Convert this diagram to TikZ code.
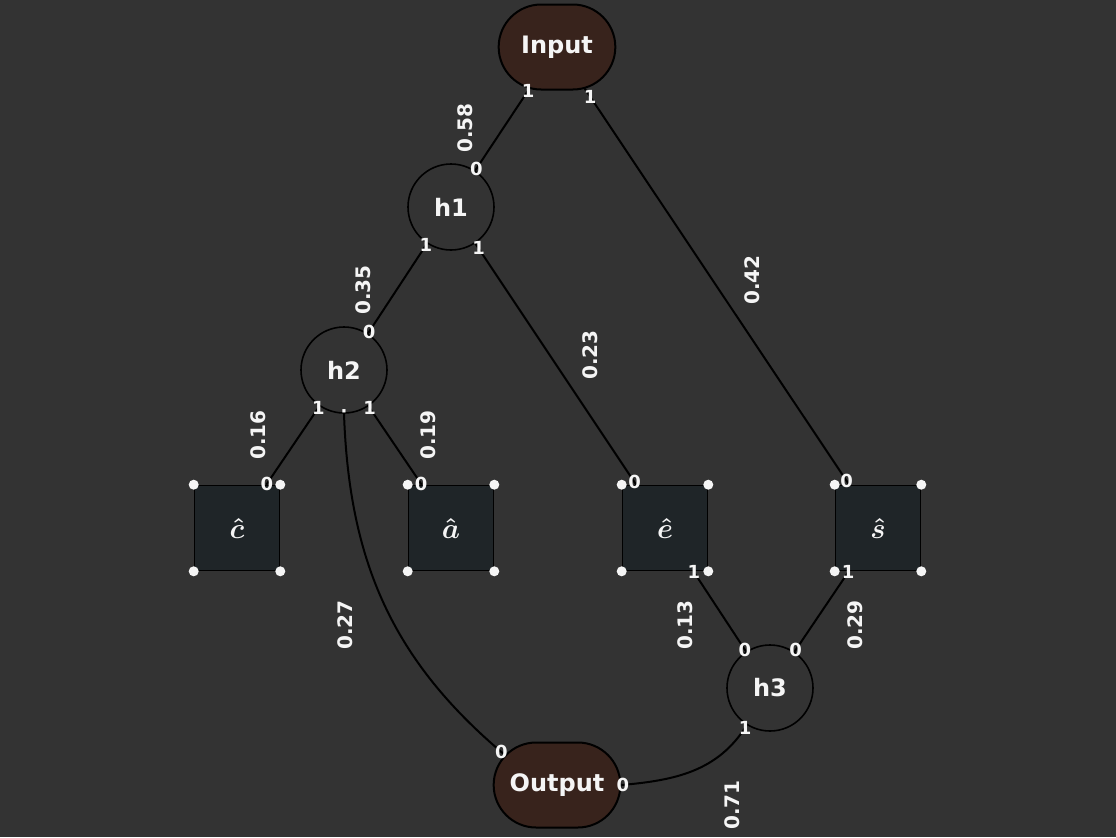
\documentclass[tikz,border=0pt]{standalone}
\usepackage{fontspec}
\setmainfont{DejaVu Sans}
\usetikzlibrary{shapes.misc}
\definecolor{bg}{HTML}{333333}
\definecolor{pillfill}{HTML}{38231C}
\definecolor{boxfill}{HTML}{1F2528}
\definecolor{txt}{HTML}{F5F5F5}
\begin{document}
\begin{tikzpicture}[x=0.5pt,y=-0.5pt,
  pill/.style={draw=black, line width=1pt, fill=pillfill, rounded rectangle, minimum width=65pt, minimum height=42.5pt, text=txt, font=\bfseries\large},
  opnode/.style={draw=black, line width=0.8pt, circle, minimum size=43pt, text=txt, font=\bfseries\large},
  leaf/.style={draw=black, line width=0.8pt, fill=boxfill, minimum size=42.5pt, text=txt, font=\boldmath\Large},
  link/.style={draw=black, line width=1pt},
  wlabel/.style={text=txt, font=\bfseries, rotate=90, inner sep=1pt},
  endlabel/.style={text=txt, font=\bfseries\small, inner sep=0pt},
  cornerdot/.style={fill=txt, circle, inner sep=0pt, minimum size=5pt}]
\fill[bg] (0,0) rectangle (1116,837);
\useasboundingbox (0,0) rectangle (1116,837);

\node[pill] (top) at (557,47) {Input};
\node[opnode] (c1) at (451,207) {h1};
\node[opnode] (c2) at (344,370) {h2};
\node[opnode] (c3) at (770,688) {h3};
\node[leaf] (s1) at (237,528) {$\hat{c}$};
\node[leaf] (s2) at (451,528) {$\hat{a}$};
\node[leaf] (s3) at (665,528) {$\hat{e}$};
\node[leaf] (s4) at (878,528) {$\hat{s}$};
\node[pill, minimum width=70pt] (bot) at (557,785) {Output};

\foreach \s in {s1,s2,s3,s4}{
  \foreach \a in {north west,north east,south west,south east}{
    \node[cornerdot] (\s-\a) at (\s.\a) {};
  }
}

\draw[link] (top) -- node[endlabel, pos=0.02] (e1a) {1} node[endlabel, pos=0.98] (e1b) {0} (c1);
\draw[link] (top) -- node[endlabel, pos=0.02] (e2a) {1} node[endlabel, pos=0.99] (e2b) {0} (s4);
\draw[link] (c1) -- node[endlabel, pos=0.02] (e3a) {1} node[endlabel, pos=0.98] (e3b) {0} (c2);
\draw[link] (c1) -- node[endlabel, pos=0.02] (e4a) {1} node[endlabel, pos=0.99] (e4b) {0} (s3);
\draw[link] (c2) -- node[endlabel, pos=0.02] (e5a) {1} node[endlabel, pos=0.99] (e5b) {0} (s1);
\draw[link] (c2) -- node[endlabel, pos=0.02] (e6a) {1} node[endlabel, pos=0.99] (e6b) {0} (s2);
\draw[link] (s3) -- node[endlabel, pos=0.01] (e7a) {1} node[endlabel, pos=0.98] (e7b) {0} (c3);
\draw[link] (s4) -- node[endlabel, pos=0.01] (e8a) {1} node[endlabel, pos=0.98] (e8b) {0} (c3);
\draw[link] (c2.south) to[out=-88, in=140] node[endlabel, pos=0.0] (e9a) {·} node[endlabel, pos=0.99] (e9b) {0} (bot.150);
\draw[link] (c3.238) to[out=238, in=5] node[endlabel, pos=0.02] (e10a) {1} node[endlabel, pos=0.99] (e10b) {0} (bot.east);

\node[wlabel] (w1) at (465,128) {0.58};
\node[wlabel] (w2) at (752,280) {0.42};
\node[wlabel] (w3) at (363,290) {0.35};
\node[wlabel] (w4) at (590,355) {0.23};
\node[wlabel] (w5) at (258,435) {0.16};
\node[wlabel] (w6) at (428,435) {0.19};
\node[wlabel] (w7) at (345,625) {0.27};
\node[wlabel] (w8) at (685,625) {0.13};
\node[wlabel] (w9) at (855,625) {0.29};
\node[wlabel] (w10) at (732,805) {0.71};
\end{tikzpicture}
\end{document}
